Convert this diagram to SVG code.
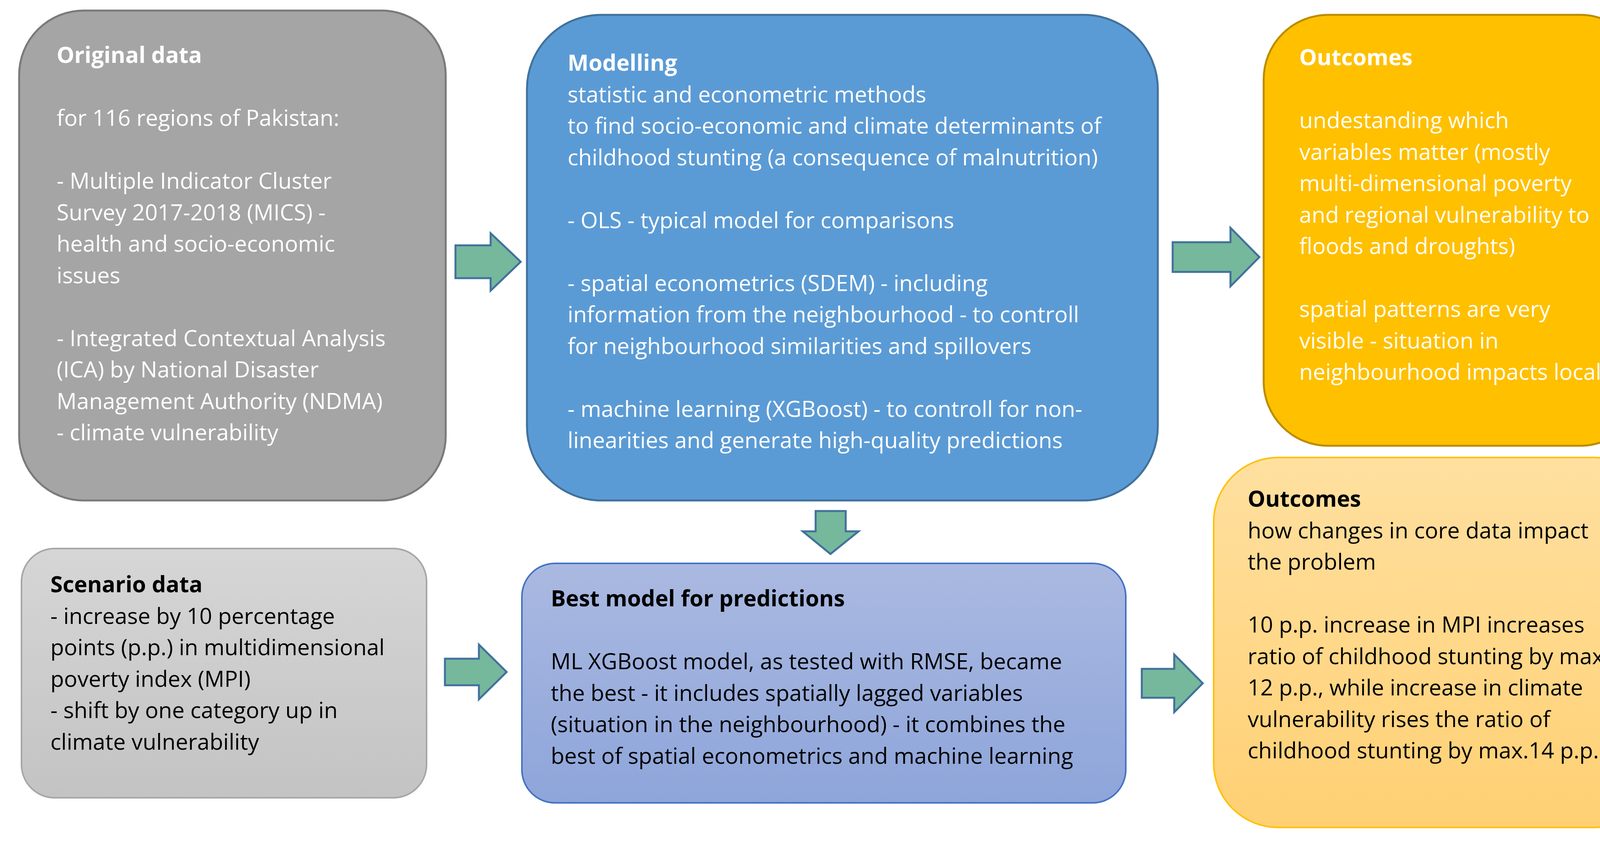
<svg xmlns="http://www.w3.org/2000/svg" width="4292" height="2168" viewBox="0 0 4292 2168">
<style>
text{font-family:"Open Sans","Noto Sans",sans-serif;font-size:57px}
.w{fill:#fff}.k{fill:#000}.b{font-weight:bold}
.arr{fill:#76b89c;stroke:#41719c;stroke-width:5}
</style>
<defs>
<linearGradient id="g4" x1="0" y1="0" x2="0" y2="1"><stop offset="0" stop-color="#d6d6d6"/><stop offset="1" stop-color="#c3c3c3"/></linearGradient>
<linearGradient id="g5" x1="0" y1="0" x2="0" y2="1"><stop offset="0" stop-color="#aab9e1"/><stop offset="1" stop-color="#8ea5da"/></linearGradient>
<linearGradient id="g6" x1="0" y1="0" x2="0" y2="1"><stop offset="0" stop-color="#ffe0a0"/><stop offset="1" stop-color="#ffd073"/></linearGradient>
</defs>
<rect width="4292" height="2168" fill="#fff"/>
<g id="original">
<rect x="49" y="27" width="1092" height="1254" rx="165" fill="#a5a5a5" stroke="#7a7a7a" stroke-width="5"/>
<text class="w" x="145"><tspan class="b" y="161">Original data</tspan><tspan x="145" y="322">for 116 regions of Pakistan:</tspan><tspan x="145" y="483">- Multiple Indicator Cluster</tspan><tspan x="145" y="563.5">Survey 2017-2018 (MICS) -</tspan><tspan x="145" y="644">health and socio-economic</tspan><tspan x="145" y="724.5">issues</tspan><tspan x="145" y="885.5">- Integrated Contextual Analysis</tspan><tspan x="145" y="966">(ICA)  by National Disaster</tspan><tspan x="145" y="1046.5">Management Authority (NDMA)</tspan><tspan x="145" y="1127">- climate vulnerability</tspan></text>
</g>
<g id="modelling">
<rect x="1349" y="38" width="1615" height="1243" rx="190" fill="#5b9bd5" stroke="#41719c" stroke-width="5"/>
<text class="w" x="1453"><tspan class="b" y="181">Modelling</tspan><tspan x="1453" y="261.5">statistic and econometric methods</tspan><tspan x="1453" y="342">to find socio-economic and climate determinants of</tspan><tspan x="1453" y="422.5">childhood stunting (a consequence of malnutrition)</tspan><tspan x="1453" y="583.5">- OLS - typical model for comparisons</tspan><tspan x="1453" y="744.5">- spatial econometrics (SDEM) - including</tspan><tspan x="1453" y="825">information from the neighbourhood - to controll</tspan><tspan x="1453" y="905.5">for neighbourhood similarities and spillovers</tspan><tspan x="1453" y="1066.5">- machine learning (XGBoost) - to controll for non-</tspan><tspan x="1453" y="1147">linearities and generate high-quality predictions</tspan></text>
</g>
<g id="outcomes1">
<rect x="3235" y="38" width="975" height="1103" rx="165" fill="#ffc000" stroke="#bc8c00" stroke-width="5"/>
<text class="w" x="3326"><tspan class="b" y="167">Outcomes</tspan><tspan x="3326" y="328">undestanding which</tspan><tspan x="3326" y="408.5">variables matter (mostly</tspan><tspan x="3326" y="489">multi-dimensional poverty</tspan><tspan x="3326" y="569.5">and regional vulnerability to</tspan><tspan x="3326" y="650">floods and droughts)</tspan><tspan x="3326" y="811">spatial patterns are very</tspan><tspan x="3326" y="891.5">visible - situation in</tspan><tspan x="3326" y="972">neighbourhood impacts local</tspan></text>
</g>
<g id="scenario">
<rect x="55" y="1404" width="1037" height="638" rx="85" fill="url(#g4)" stroke="#a6a6a6" stroke-width="4"/>
<text class="k" x="129"><tspan class="b" y="1516">Scenario data</tspan><tspan x="129" y="1596.5">- increase by 10 percentage</tspan><tspan x="129" y="1677">points (p.p.) in multidimensional</tspan><tspan x="129" y="1757.5">poverty index (MPI)</tspan><tspan x="129" y="1838">- shift by one category up in</tspan><tspan x="129" y="1918.5">climate vulnerability</tspan></text>
</g>
<g id="bestmodel">
<rect x="1336" y="1442" width="1546" height="613" rx="85" fill="url(#g5)" stroke="#4472c4" stroke-width="4"/>
<text class="k" x="1410"><tspan class="b" y="1552">Best model for predictions</tspan><tspan x="1410" y="1713">ML XGBoost model, as tested with RMSE, became</tspan><tspan x="1410" y="1793.5">the best - it includes spatially lagged variables</tspan><tspan x="1410" y="1874">(situation in the neighbourhood) - it combines the</tspan><tspan x="1410" y="1954.5">best of spatial econometrics and machine learning</tspan></text>
</g>
<g id="outcomes2">
<rect x="3107" y="1171" width="1141" height="947" rx="165" fill="url(#g6)" stroke="#ffc000" stroke-width="4"/>
<text class="k" x="3194"><tspan class="b" y="1297">Outcomes</tspan><tspan x="3194" y="1377.5">how changes in core data impact</tspan><tspan x="3194" y="1458">the problem</tspan><tspan x="3194" y="1619">10 p.p. increase in MPI increases</tspan><tspan x="3194" y="1699.5">ratio of childhood stunting by max.</tspan><tspan x="3194" y="1780">12 p.p., while increase in climate</tspan><tspan x="3194" y="1860.5">vulnerability rises the ratio of</tspan><tspan x="3194" y="1941">childhood stunting by max.14 p.p.</tspan></text>
</g>
<g id="connectors">
<path class="arr" d="M1166,628 H1256 V597 L1333,670 L1256,744 V712 H1166 Z"/>
<path class="arr" d="M3002,620 H3150 V583 L3224,658 L3150,733 V696 H3002 Z"/>
<path class="arr" d="M2088,1308 H2165 V1360 H2198 L2126,1418 L2055,1360 H2088 Z"/>
<path class="arr" d="M1139,1686 H1226 V1650 L1297,1720 L1226,1790 V1754 H1139 Z"/>
<path class="arr" d="M2923,1712 H3006 V1675 L3079,1749 L3006,1823 V1786 H2923 Z"/>
</g>
</svg>
